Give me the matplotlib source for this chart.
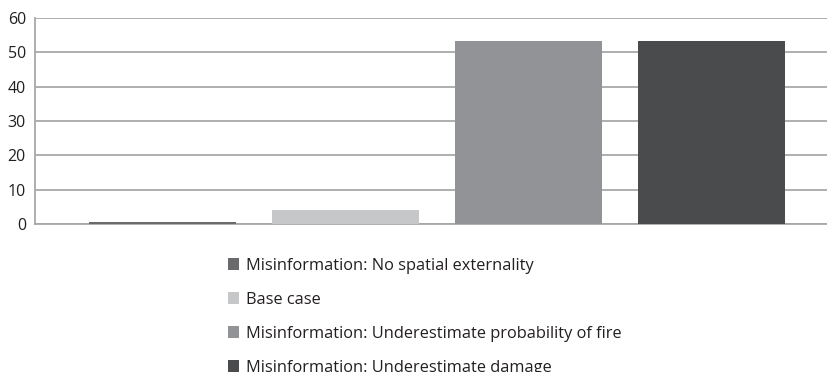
import matplotlib
matplotlib.use("Agg")
import matplotlib.pyplot as plt
from matplotlib.patches import Patch

categories = [
    "Misinformation: No spatial externality",
    "Base case",
    "Misinformation: Underestimate probability of fire",
    "Misinformation: Underestimate damage",
]
values = [0.6, 4.1, 53.3, 53.3]
colors = ["#6a6a6c", "#c6c7c8", "#929397", "#4a4b4d"]
yticks = [0, 10, 20, 30, 40, 50, 60]

plt.rcParams["font.family"] = ["Open Sans", "DejaVu Sans"]

W, H = 828, 372
fig = plt.figure(figsize=(W / 100, H / 100), dpi=100)
ax = fig.add_axes([35 / W, (H - 224) / H, (827 - 35) / W, (224 - 18) / H])

x = list(range(len(categories)))
ax.bar(x, values, width=0.8, color=colors, zorder=3)

ax.set_ylim(0, 60)
ax.set_xlim(-0.697, 3.63)
ax.set_yticks(yticks)
ax.set_yticklabels([str(t) for t in yticks], fontsize=11.5, color="#231f20")
ax.set_xticks([])
ax.tick_params(axis="y", length=0, pad=6.5)
ax.yaxis.grid(True, color="#a7a8aa", linewidth=1.3, zorder=0)

for side in ("top", "right"):
    ax.spines[side].set_visible(False)
ax.spines["left"].set_color("#a7a8aa")
ax.spines["left"].set_linewidth(1.3)
ax.spines["bottom"].set_color("#a7a8aa")
ax.spines["bottom"].set_linewidth(1.3)

handles = [Patch(facecolor=c, edgecolor="none") for c in colors]
fig.legend(handles, categories, loc="upper left",
           bbox_to_anchor=(221 / W, 1 - 251 / H), frameon=False,
           fontsize=11.8, handlelength=0.7, handleheight=0.7,
           handletextpad=0.4, labelspacing=1.1, borderaxespad=0,
           labelcolor="#231f20")

fig.savefig("out.png", dpi=100)
